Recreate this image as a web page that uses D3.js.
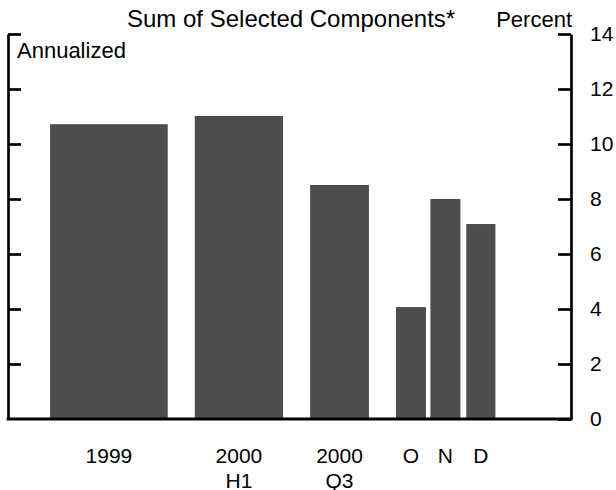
<!DOCTYPE html>
<html>
<head>
<meta charset="utf-8">
<script src="https://cdn.jsdelivr.net/npm/d3@7"></script>
<style>
  html, body { margin: 0; padding: 0; background: #fff; }
  svg { display: block; font-family: "Liberation Sans", Arial, sans-serif; }
</style>
</head>
<body>
<svg id="chart" width="616" height="490"></svg>
<script>
// ---- data ----
const categories = ["1999", "2000 H1", "2000 Q3", "O", "N", "D"];
const labelLine1 = ["1999", "2000", "2000", "O", "N", "D"];
const labelLine2 = ["", "H1", "Q3", "", "", ""];
const values = [10.72, 11.02, 8.51, 4.07, 8.0, 7.09];
const tickValues = [0, 2, 4, 6, 8, 10, 12, 14];
const title = "Sum of Selected Components*";
const unitsLabel = "Percent";
const noteLabel = "Annualized";

// ---- layout (relative bar spans, in slot units) ----
const periodSpan = [4, 3, 2, 1.02, 1.02, 0.99];
const gapBefore = [1.43, 0.92, 0.92, 0.92, 0.15, 0.2];

(function () {
const svg = d3.select("#chart");
const mLeft = 8, mRight = 571, mTop = 34, mBottom = 419;

const y = d3.scaleLinear().domain([0, 14]).range([mBottom, mTop]);

// cumulative slot positions
const starts = [];
let acc = 0;
periodSpan.forEach((s, i) => { acc += gapBefore[i]; starts.push(acc); acc += s; });
const x = d3.scaleLinear().domain([0, 19.14]).range([mLeft, mRight]);

const bars = categories.map((c, i) => ({c, v: values[i], s: starts[i], w: periodSpan[i], l1: labelLine1[i], l2: labelLine2[i]}));

svg.append("g").selectAll("rect").data(bars).join("rect")
  .attr("x", d => x(d.s))
  .attr("width", d => x(d.s + d.w) - x(d.s))
  .attr("y", d => y(d.v))
  .attr("height", d => y(0) - y(d.v))
  .attr("fill", "#4d4d4d");

// left axis (ticks inward, no labels)
const gl = svg.append("g").attr("transform", `translate(${mLeft},0)`)
  .call(d3.axisLeft(y).tickValues(tickValues.filter(t => t > 0)).tickSize(-13).tickSizeOuter(0).tickFormat(""));
// right axis
const gr = svg.append("g").attr("transform", `translate(${mRight},0)`)
  .call(d3.axisRight(y).tickValues(tickValues).tickSize(-13).tickSizeOuter(0).tickPadding(19).tickFormat(d3.format("d")));

[gl, gr].forEach(g => {
  g.select(".domain").attr("stroke", "#000").attr("stroke-width", 2.7);
  g.selectAll(".tick line").attr("stroke", "#000").attr("stroke-width", 2.7);
  g.selectAll(".tick text").attr("fill", "#000").attr("font-size", 21)
    .attr("font-family", "Liberation Sans, Arial, sans-serif");
});

// baseline
svg.append("line")
  .attr("x1", mLeft - 1.35).attr("x2", mRight + 1.35)
  .attr("y1", y(0)).attr("y2", y(0))
  .attr("stroke", "#000").attr("stroke-width", 2.8);

// x labels
const lab = svg.append("g").attr("font-size", 21).attr("text-anchor", "middle").attr("fill", "#000");
lab.selectAll("text.l1").data(bars).join("text").attr("class", "l1")
  .attr("x", d => (x(d.s) + x(d.s + d.w)) / 2).attr("y", 463).text(d => d.l1);
lab.selectAll("text.l2").data(bars.filter(d => d.l2)).join("text").attr("class", "l2")
  .attr("x", d => (x(d.s) + x(d.s + d.w)) / 2).attr("y", 487.5).text(d => d.l2);

// title and labels
svg.append("text").attr("x", 127).attr("y", 27).attr("font-size", 24).text(title);
svg.append("text").attr("x", mRight + 1).attr("y", 27).attr("font-size", 22).attr("text-anchor", "end").text(unitsLabel);
svg.append("text").attr("x", 17).attr("y", 58).attr("font-size", 22).text(noteLabel);
})();
</script>
</body>
</html>
